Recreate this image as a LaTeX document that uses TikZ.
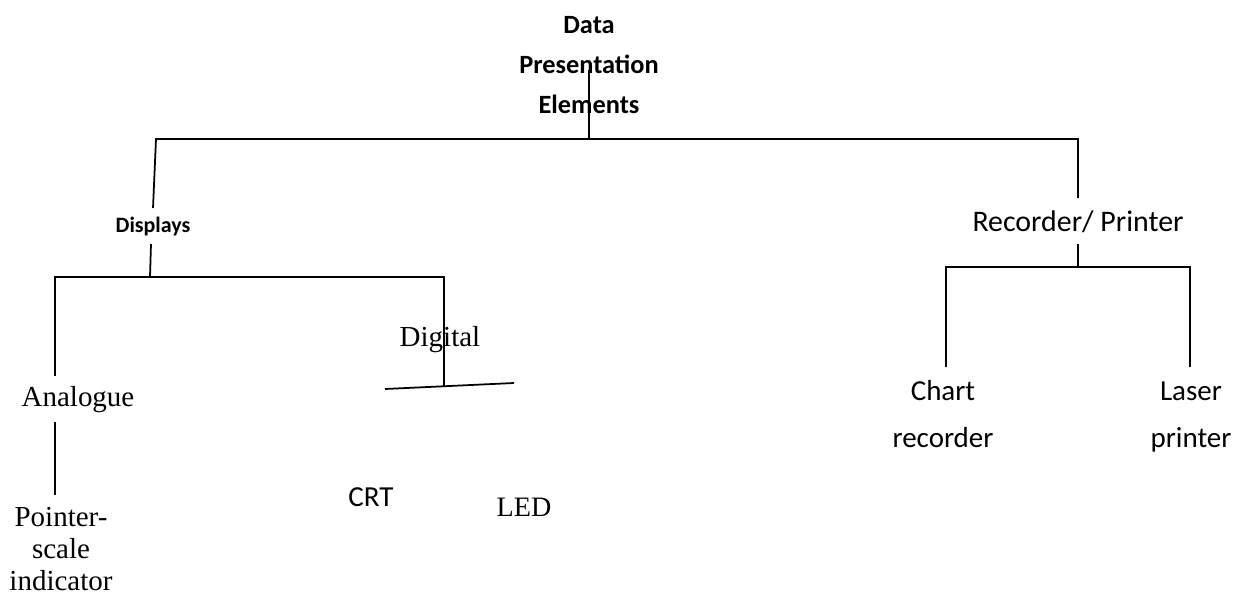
\documentclass[tikz,border=0pt]{standalone}
\usepackage{fontspec}
\setmainfont{Liberation Serif}
\setsansfont{Carlito}
\usepackage{tikz}
\usetikzlibrary{positioning}

\tikzset{
  wire/.style={line width=1pt},
  serifbox/.style={font=\fontsize{16.5}{18.3}\selectfont,align=center,inner sep=0pt},
  sansbox/.style={font=\sffamily\fontsize{16.5}{27.2}\selectfont,align=center,inner sep=0pt},
  headbox/.style={font=\sffamily\bfseries\fontsize{15}{22.7}\selectfont,align=center,inner sep=0pt}
}

\begin{document}
\begin{tikzpicture}[x=0.02cm,y=-0.02cm]
  \useasboundingbox (0,0) rectangle (1248,595);

  % text nodes
  \node[headbox] (root) at (589,65) {Data\\Presentation\\Elements};
  \node[headbox,font=\sffamily\bfseries\fontsize{12.5}{15}\selectfont] (disp) at (153,227) {Displays};
  \node[sansbox,font=\sffamily\fontsize{17}{20}\selectfont] (rec) at (1078,222) {Recorder/ Printer};
  \node[serifbox] (ana) at (78,400) {Analogue};
  \node[serifbox] (dig) at (440,340) {Digital};
  \node[serifbox] (ptr) at (61,549) {Pointer-\\scale\\indicator};
  \node[sansbox] (crt) at (371,497) {CRT};
  \node[serifbox,font=\fontsize{16}{19}\selectfont] (led) at (524,507) {LED};
  \node[sansbox] (chart) at (943,414) {Chart\\recorder};
  \node[sansbox] (laser) at (1191,417) {Laser\\printer};

  % junction points
  \coordinate (rootEnd) at (589,70);
  \coordinate (bus) at (589,139);
  \coordinate (busL) at (156,139);
  \coordinate (busR) at (1078,139);
  \coordinate (dispIn) at (153,208);
  \coordinate (dispOut) at (151,244);
  \coordinate (dbus) at (150,277);
  \coordinate (dbusL) at (55,277);
  \coordinate (dbusR) at (444,277);
  \coordinate (anaIn) at (55,376);
  \coordinate (anaOut) at (55,422);
  \coordinate (ptrIn) at (55,495);
  \coordinate (digEnd) at (444,386);
  \coordinate (barL) at (385,389);
  \coordinate (barR) at (514,383);
  \coordinate (recIn) at (1078,198);
  \coordinate (recOut) at (1078,244);
  \coordinate (rbus) at (1078,267);
  \coordinate (rbusL) at (946,267);
  \coordinate (rbusR) at (1190,267);
  \coordinate (chartIn) at (946,367);
  \coordinate (laserIn) at (1190,367);

  % connectors
  \draw[wire] (rootEnd) -- (bus);
  \draw[wire] (dispIn) -- (busL) -- (busR) -- (recIn);
  \draw[wire] (dispOut) -- (dbus);
  \draw[wire] (anaIn) -- (dbusL) -- (dbusR) -- (digEnd);
  \draw[wire] (anaOut) -- (ptrIn);
  \draw[wire] (barL) -- (barR);
  \draw[wire] (recOut) -- (rbus);
  \draw[wire] (chartIn) -- (rbusL) -- (rbusR) -- (laserIn);
\end{tikzpicture}
\end{document}
